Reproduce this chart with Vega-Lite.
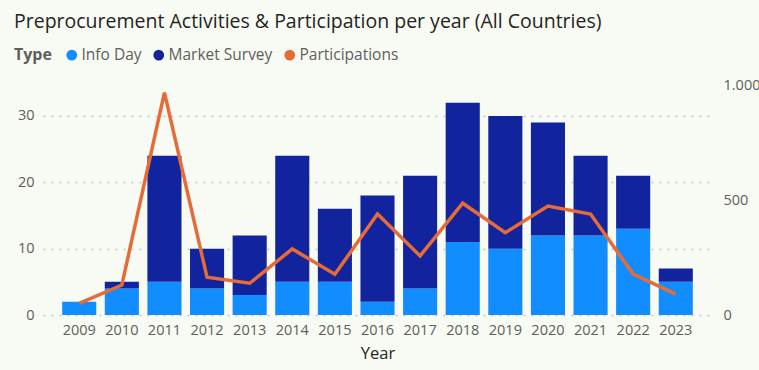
{
  "$schema": "https://vega.github.io/schema/vega-lite/v6.json",
  "width": 669,
  "height": 230,
  "autosize": {"type": "none"},
  "padding": {"left": 43, "top": 85, "right": 47, "bottom": 55},
  "background": "#F7FBF3",
  "title": {
    "text": "Preprocurement Activities & Participation per year (All Countries)",
    "anchor": "start",
    "frame": "group",
    "dx": -29,
    "offset": 15,
    "font": "Open Sans",
    "fontSize": 19.5,
    "fontWeight": "normal",
    "color": "#252423"
  },
  "data": {
    "values": [
      {"Year": "2009", "Type": "Info Day", "Value": 2},
      {"Year": "2009", "Type": "Market Survey", "Value": 0},
      {"Year": "2009", "Type": "Participations", "Value": 51},
      {"Year": "2010", "Type": "Info Day", "Value": 4},
      {"Year": "2010", "Type": "Market Survey", "Value": 1},
      {"Year": "2010", "Type": "Participations", "Value": 130},
      {"Year": "2011", "Type": "Info Day", "Value": 5},
      {"Year": "2011", "Type": "Market Survey", "Value": 19},
      {"Year": "2011", "Type": "Participations", "Value": 967},
      {"Year": "2012", "Type": "Info Day", "Value": 4},
      {"Year": "2012", "Type": "Market Survey", "Value": 6},
      {"Year": "2012", "Type": "Participations", "Value": 164},
      {"Year": "2013", "Type": "Info Day", "Value": 3},
      {"Year": "2013", "Type": "Market Survey", "Value": 9},
      {"Year": "2013", "Type": "Participations", "Value": 138},
      {"Year": "2014", "Type": "Info Day", "Value": 5},
      {"Year": "2014", "Type": "Market Survey", "Value": 19},
      {"Year": "2014", "Type": "Participations", "Value": 287},
      {"Year": "2015", "Type": "Info Day", "Value": 5},
      {"Year": "2015", "Type": "Market Survey", "Value": 11},
      {"Year": "2015", "Type": "Participations", "Value": 177},
      {"Year": "2016", "Type": "Info Day", "Value": 2},
      {"Year": "2016", "Type": "Market Survey", "Value": 16},
      {"Year": "2016", "Type": "Participations", "Value": 439},
      {"Year": "2017", "Type": "Info Day", "Value": 4},
      {"Year": "2017", "Type": "Market Survey", "Value": 17},
      {"Year": "2017", "Type": "Participations", "Value": 257},
      {"Year": "2018", "Type": "Info Day", "Value": 11},
      {"Year": "2018", "Type": "Market Survey", "Value": 21},
      {"Year": "2018", "Type": "Participations", "Value": 486},
      {"Year": "2019", "Type": "Info Day", "Value": 10},
      {"Year": "2019", "Type": "Market Survey", "Value": 20},
      {"Year": "2019", "Type": "Participations", "Value": 358},
      {"Year": "2020", "Type": "Info Day", "Value": 12},
      {"Year": "2020", "Type": "Market Survey", "Value": 17},
      {"Year": "2020", "Type": "Participations", "Value": 474},
      {"Year": "2021", "Type": "Info Day", "Value": 12},
      {"Year": "2021", "Type": "Market Survey", "Value": 12},
      {"Year": "2021", "Type": "Participations", "Value": 439},
      {"Year": "2022", "Type": "Info Day", "Value": 13},
      {"Year": "2022", "Type": "Market Survey", "Value": 8},
      {"Year": "2022", "Type": "Participations", "Value": 178},
      {"Year": "2023", "Type": "Info Day", "Value": 5},
      {"Year": "2023", "Type": "Market Survey", "Value": 2},
      {"Year": "2023", "Type": "Participations", "Value": 91}
    ]
  },
  "encoding": {
    "x": {
      "field": "Year",
      "type": "ordinal",
      "scale": {"paddingInner": 0.2, "paddingOuter": 0.45},
      "axis": {
        "title": "Year",
        "labelAngle": 0,
        "domain": false,
        "ticks": false,
        "labelPadding": 8,
        "labelFont": "Open Sans",
        "labelFontSize": 14.5,
        "labelColor": "#605E5C",
        "titleFont": "Open Sans",
        "titleFontSize": 16.5,
        "titleFontWeight": "normal",
        "titleColor": "#252423",
        "titlePadding": 9
      }
    },
    "color": {
      "field": "Type",
      "type": "nominal",
      "scale": {
        "domain": ["Info Day", "Market Survey", "Participations"],
        "range": ["#118DFF", "#12239E", "#E66C37"]
      },
      "legend": {
        "orient": "none",
        "legendX": -29,
        "legendY": -38,
        "direction": "horizontal",
        "titleOrient": "left",
        "title": "Type",
        "titleFont": "Open Sans",
        "titleFontSize": 16,
        "titleFontWeight": "bold",
        "titleColor": "#605E5C",
        "titlePadding": 12,
        "labelFont": "Open Sans",
        "labelFontSize": 15.5,
        "labelColor": "#605E5C",
        "labelOffset": 2,
        "columnPadding": 9,
        "symbolType": "circle",
        "symbolSize": 115,
        "symbolStrokeWidth": 0,
        "labelLimit": 300
      }
    }
  },
  "layer": [
    {
      "transform": [{"filter": "datum.Type !== 'Participations'"}],
      "mark": {"type": "bar"},
      "encoding": {
        "y": {
          "field": "Value",
          "type": "quantitative",
          "stack": "zero",
          "scale": {"domain": [0, 34.67], "nice": false, "zero": true},
          "axis": {
            "title": null,
            "values": [0, 10, 20, 30],
            "domain": false,
            "ticks": false,
            "labelPadding": 9,
            "labelFont": "Open Sans",
            "labelFontSize": 14.5,
            "labelColor": "#605E5C",
            "grid": true,
            "gridColor": "#C8C6C4",
            "gridDash": [2, 6],
            "gridWidth": 1.5
          }
        },
        "order": {"field": "Type", "sort": "ascending"}
      }
    },
    {
      "transform": [{"filter": "datum.Type === 'Participations'"}],
      "mark": {"type": "line", "strokeWidth": 3.5, "strokeJoin": "miter"},
      "encoding": {
        "y": {
          "field": "Value",
          "type": "quantitative",
          "scale": {"domain": [0, 1000], "nice": false},
          "axis": {
            "orient": "right",
            "title": null,
            "values": [0, 500, 1000],
            "labelExpr": "replace(format(datum.value, ','), ',', '.')",
            "domain": false,
            "ticks": false,
            "grid": false,
            "labelPadding": 11,
            "labelFont": "Open Sans",
            "labelFontSize": 14.5,
            "labelColor": "#605E5C"
          }
        }
      }
    }
  ],
  "resolve": {"scale": {"y": "independent"}},
  "config": {"view": {"stroke": null}}
}
